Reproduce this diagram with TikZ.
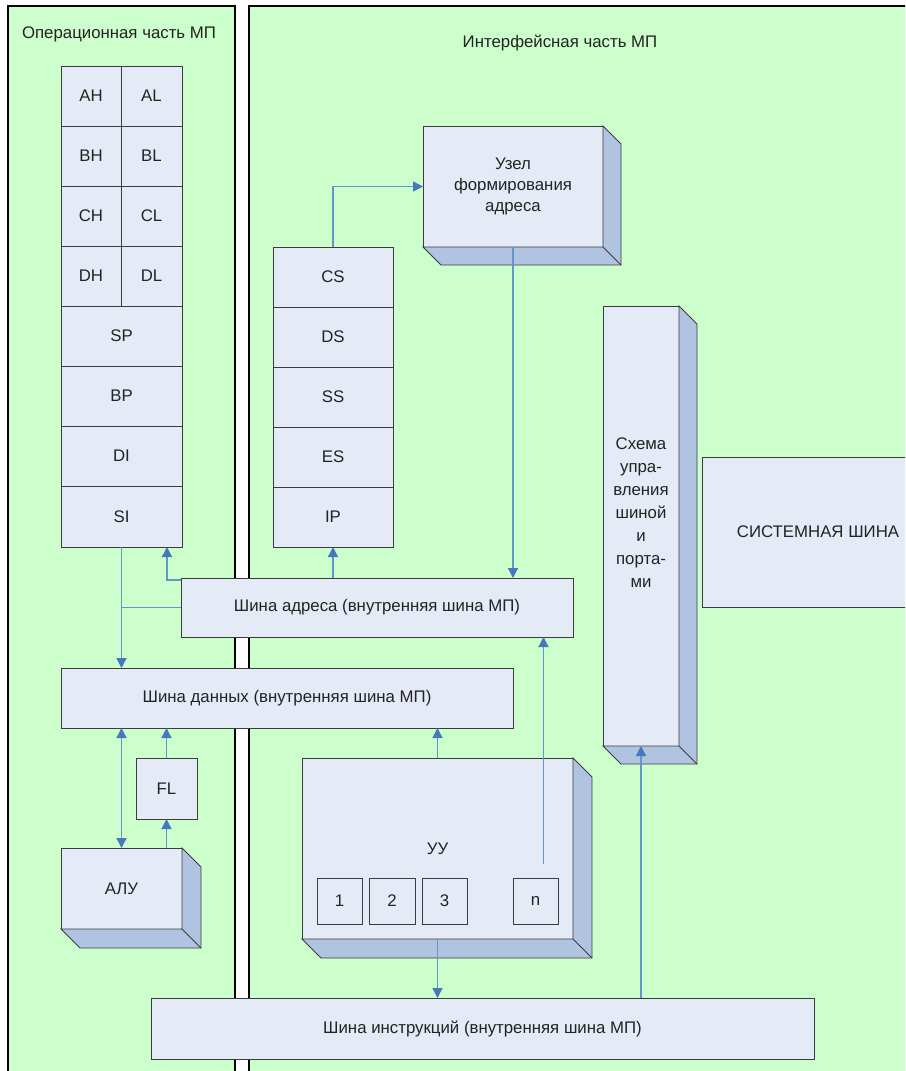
\documentclass[tikz,border=0pt]{standalone}
\usepackage{fontspec}
\setmainfont{Liberation Sans}
\usetikzlibrary{arrows.meta}
\definecolor{panelgreen}{RGB}{204,255,204}
\definecolor{boxfill}{RGB}{228,234,246}
\definecolor{sidefill}{RGB}{176,196,226}
\definecolor{boxedge}{RGB}{60,60,60}
\definecolor{linkcol}{RGB}{100,150,200}
\definecolor{headcol}{RGB}{70,120,190}
\definecolor{txtcol}{RGB}{35,35,35}
\newcommand\mkdepth[2]{%
  \filldraw[side] (#1.north east) -- ++(#2,#2) -- ([shift={(#2,#2)}]#1.south east)
    -- ([shift={(#2,#2)}]#1.south west) -- (#1.south west) -- (#1.south east) -- cycle;
  \draw[side] (#1.south east) -- ++(#2,#2);}
\begin{document}
\begin{tikzpicture}[x=1pt,y=-1pt,
  box/.style={draw=boxedge, fill=boxfill, line width=0.9pt, inner sep=0pt, outer sep=0pt,
    anchor=north west, text=txtcol, font=\fontsize{16.8}{19}\selectfont, align=center},
  wh/.style 2 args={minimum width=#1pt, minimum height=#2pt},
  side/.style={draw=boxedge, fill=sidefill, line width=0.9pt, line join=miter},
  link/.style={draw=linkcol, line width=1.3pt},
  arr/.style={link, -{Triangle[length=10pt,width=10pt,color=headcol]}},
  arrboth/.style={link, {Triangle[length=10pt,width=10pt,color=headcol]}-{Triangle[length=10pt,width=10pt,color=headcol]}},
  panel/.style={draw=black, fill=panelgreen, line width=1.5pt},
  title/.style={text=txtcol, font=\fontsize{16.8}{19}\selectfont, inner sep=0pt, align=center}
]
\useasboundingbox (0,0) rectangle (905,1071);
\clip (0,0) rectangle (905,1071);
\fill[white] (0,0) rectangle (905,1071);
% panels
\draw[panel] (8,6) rectangle (235,1090);
\draw[panel] (249,6) rectangle (940,1090);
\node[title] (optitle) at (119,34) {Операционная часть МП};
\node[title] (iftitle) at (560,43) {Интерфейсная часть МП};
% general registers
\node[box,wh={60}{60}] (AH) at (61,66) {AH};
\node[box,wh={61}{60}] (AL) at (121,66) {AL};
\node[box,wh={60}{60}] (BH) at (61,126) {BH};
\node[box,wh={61}{60}] (BL) at (121,126) {BL};
\node[box,wh={60}{60}] (CH) at (61,186) {CH};
\node[box,wh={61}{60}] (CL) at (121,186) {CL};
\node[box,wh={60}{60}] (DH) at (61,246) {DH};
\node[box,wh={61}{60}] (DL) at (121,246) {DL};
\node[box,wh={121}{60}] (SP) at (61,306) {SP};
\node[box,wh={121}{60}] (BP) at (61,366) {BP};
\node[box,wh={121}{60}] (DI) at (61,426) {DI};
\node[box,wh={121}{61}] (SI) at (61,486) {SI};
% segment registers
\node[box,wh={120}{60}] (CS) at (273,247) {CS};
\node[box,wh={120}{60}] (DS) at (273,307) {DS};
\node[box,wh={120}{60}] (SS) at (273,367) {SS};
\node[box,wh={120}{60}] (ES) at (273,427) {ES};
\node[box,wh={120}{60}] (IP) at (273,487) {IP};
% address unit
\node[box,wh={180}{121},font=\fontsize{16.8}{21}\selectfont] (uzel) at (423,126) {Узел\\формирования\\адреса};
\mkdepth{uzel}{18}
% bus control
\node[box,wh={76}{440}] (schema) at (603,306) {};
\mkdepth{schema}{18}
\node[title,font=\fontsize{16.8}{23}\selectfont] (schematxt) at (641,513) {Схема\\упра-\\вления\\шиной\\и\\порта-\\ми};
% system bus
\node[box,wh={232}{150}] (sysbus) at (702,457) {СИСТЕМНАЯ ШИНА};
% buses
\node[box,wh={392}{59}] (abus) at (181,578) {Шина адреса (внутренняя шина МП)};
\node[box,wh={452}{60}] (dbus) at (61,668) {Шина данных (внутренняя шина МП)};
\node[box,wh={663}{61}] (ibus) at (151,998) {Шина инструкций (внутренняя шина МП)};
% FL, ALU
\node[box,wh={61}{61}] (fl) at (136,758) {FL};
\node[box,wh={121}{81}] (alu) at (61,848) {АЛУ};
\mkdepth{alu}{19}
% control unit
\node[box,wh={271}{181}] (uu) at (302,758) {УУ};
\mkdepth{uu}{19}
\node[box,wh={45}{46}] (u1) at (317,878) {1};
\node[box,wh={46}{46}] (u2) at (369,878) {2};
\node[box,wh={45}{46}] (u3) at (422,878) {3};
\node[box,wh={45}{46}] (un) at (513,878) {n};
\coordinate (uun) at ([xshift=106pt,yshift=-15pt]uu.center);
% connectors
\draw[arr] (SI.south) -- (SI.south |- dbus.north);
\draw[link] (abus.west) -- (abus.west -| SI.south);
\draw[arr] ([yshift=-2pt]abus.north west) -| ([xshift=45.5pt]SI.south);
\draw[arr] (abus.north -| IP.south) -- (IP.south);
\draw[arr] (CS.north) |- (uzel.west);
\draw[arr] (uzel.south) -- (uzel.south |- abus.north);
\draw[arr] (uun) -- (uun |- abus.south);
\draw[arr] (uu.north) -- (uu.north |- dbus.south);
\draw[arr] (uu.south) -- (uu.south |- ibus.north);
\draw[arr] (ibus.north -| schema.south) -- (schema.south);
\draw[arrboth] (dbus.south -| alu.north) -- (alu.north);
\draw[arr] (alu.north -| fl.south) -- (fl.south);
\draw[arr] (fl.north) -- (fl.north |- dbus.south);
\end{tikzpicture}
\end{document}
